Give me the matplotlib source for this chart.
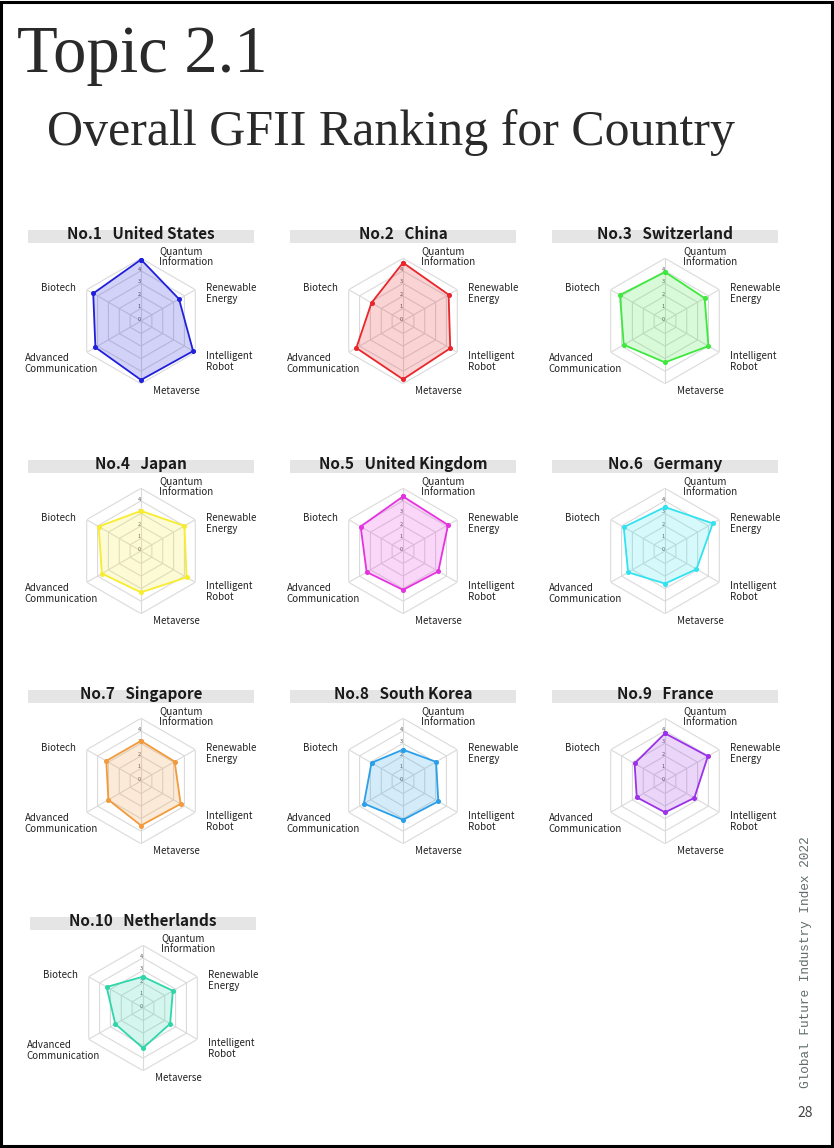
import numpy as np
import matplotlib.pyplot as plt
from matplotlib.patches import Rectangle

# data (score scale 0-5)
dimensions = ["Quantum\nInformation", "Renewable\nEnergy", "Intelligent\nRobot",
              "Metaverse", "Advanced\nCommunication", "Biotech"]
countries = ["United States", "China", "Switzerland", "Japan", "United Kingdom",
             "Germany", "Singapore", "South Korea", "France", "Netherlands"]

united_states = [4.9, 3.5, 4.8, 4.7, 4.2, 4.4]
china = [4.65, 4.2, 4.35, 4.65, 4.3, 2.9]
switzerland = [3.9, 3.65, 4.0, 3.3, 3.8, 4.15]
japan = [3.2, 4.0, 4.2, 3.3, 3.6, 3.9]
united_kingdom = [4.35, 4.15, 3.25, 3.1, 3.35, 3.9]
germany = [3.5, 4.4, 2.9, 2.6, 3.4, 3.8]
singapore = [3.2, 3.1, 3.65, 3.55, 3.0, 3.2]
south_korea = [2.5, 3.05, 3.25, 3.1, 3.6, 2.9]
france = [3.8, 3.95, 2.7, 2.5, 2.6, 2.8]
netherlands = [2.5, 2.75, 2.5, 3.2, 2.55, 3.35]

scores = [united_states, china, switzerland, japan, united_kingdom,
          germany, singapore, south_korea, france, netherlands]
colors = ["#2020dc", "#e8262b", "#3ee83e", "#f7ec30", "#e633e0",
          "#33e2f0", "#f29a3c", "#2b9fe8", "#9b32e8", "#2fd6aa"]
ticks = [0, 1, 2, 3, 4]
rmax = 5

W, H = 834, 1148
fig = plt.figure(figsize=(W / 100, H / 100), dpi=100)
fig.patch.set_facecolor("white")

page = fig.add_axes([0, 0, 1, 1])
page.set_xlim(0, W)
page.set_ylim(H, 0)
page.axis("off")

sans = ["Noto Sans CJK SC", "DejaVu Sans"]

# frame and headings
page.add_patch(Rectangle((1.5, 1.5), W - 3.5, H - 3.5, fill=False,
                         edgecolor="black", linewidth=2.2))
page.text(17, 72, "Topic 2.1", family="Liberation Serif", fontsize=48,
          color="#2a2a2a", va="baseline")
page.text(47, 145, "Overall GFII Ranking for Country", family="Liberation Serif",
          fontsize=36, color="#2a2a2a", va="baseline")
page.text(806, 1088, "Global Future Industry Index 2022", family="Liberation Mono",
          fontsize=9.2, color="#5f6b6b", rotation=90, ha="center", va="bottom")
page.text(805, 1117, "28", family=sans, fontsize=10, color="#444444",
          ha="center", va="baseline")

# layout of the grid of radars
bar_left = [28, 290, 552]
bar_top = [230, 460, 690, 917]
bar_w, bar_h = 226, 13
R = 62.7  # pixel radius of the outer ring
label_pos = [(18, -64.5, "left"), (65, -27.5, "left"), (65, 40.5, "left"),
             (12, 70, "left"), (-43, 42.5, "right"), (-65, -33, "right")]

angles = np.deg2rad(np.arange(0, 360, 60))
closed = np.append(angles, angles[0])

for i, (name, vals, col) in enumerate(zip(countries, scores, colors)):
    row, c = divmod(i, 3)
    bx = bar_left[c] + (2 if row == 3 else 0)
    by = bar_top[row]
    cx, cy = bx + 113, by + 91

    page.add_patch(Rectangle((bx, by), bar_w, bar_h, facecolor="#e5e5e5",
                             edgecolor="none"))
    page.text(bx + bar_w / 2, by + 9, f"No.{i + 1}   {name}", family=sans,
              fontsize=11, fontweight="bold", color="#1a1a1a",
              ha="center", va="baseline")

    for (dx, dy, ha), lab in zip(label_pos, dimensions):
        page.text(cx + dx, cy + dy, lab, family=sans, fontsize=7, color="#222222",
                  ha=ha, va="center", multialignment="left", linespacing=1.15)

    ax = fig.add_axes([(cx - R) / W, 1 - (cy + R) / H, 2 * R / W, 2 * R / H],
                      projection="polar")
    ax.set_theta_zero_location("N")
    ax.set_theta_direction(-1)
    ax.set_ylim(0, rmax)
    ax.set_axis_off()
    ax.patch.set_alpha(0)

    for r in range(1, rmax + 1):
        ax.plot(closed, [r] * 7, color="#dadada", lw=0.8, zorder=1)
    for a in angles:
        ax.plot([a, a], [0, rmax], color="#dadada", lw=0.8, zorder=1)
    for t in ticks:
        ax.text(0, t + 0.12, str(t), fontsize=4, color="#555555", family=sans,
                ha="right", va="center", zorder=2)

    v = np.append(vals, vals[0])
    ax.fill(closed, v, color=col, alpha=0.2, zorder=3, lw=0)
    ax.plot(closed, v, color=col, lw=1.3, marker="o", markersize=2.6,
            zorder=4, clip_on=False)

fig.savefig("out.png", dpi=100, facecolor="white")
